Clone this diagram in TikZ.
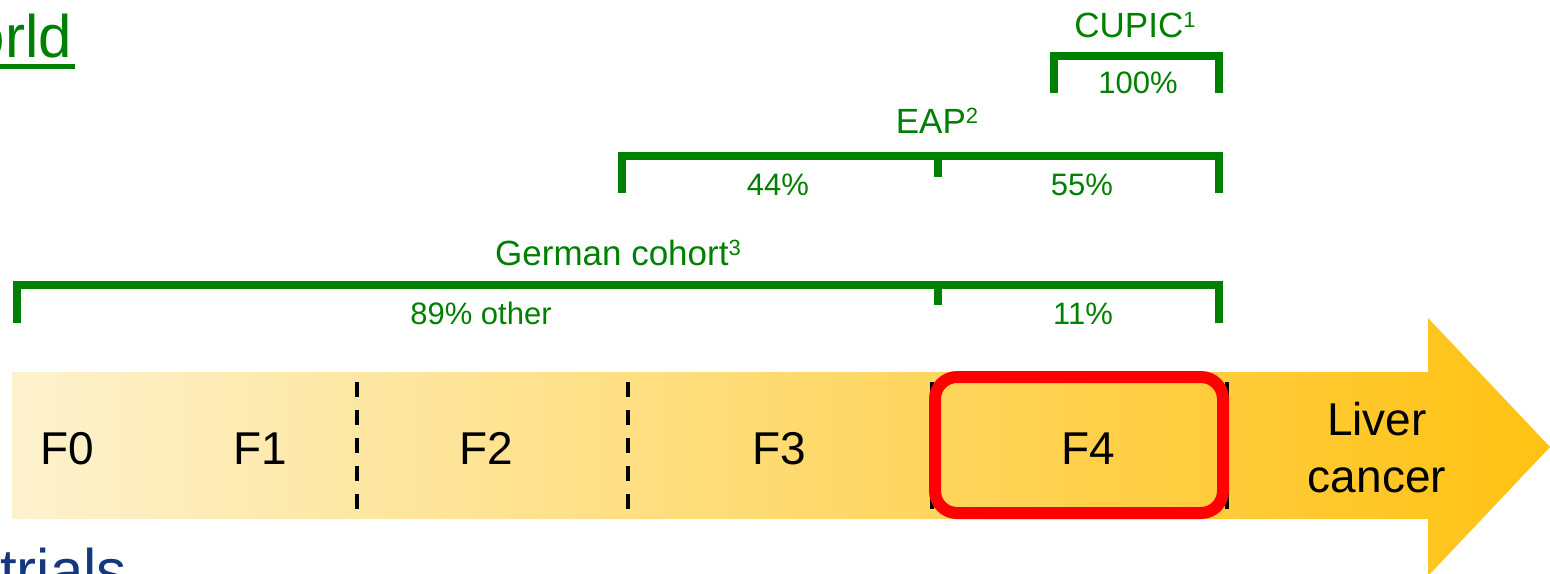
\documentclass[tikz,border=0pt]{standalone}
\usepackage{fontspec}
\setmainfont{Liberation Sans}
\definecolor{grn}{RGB}{0,128,0}
\definecolor{bluetxt}{RGB}{20,55,125}
\definecolor{arrowL}{RGB}{253,242,206}
\definecolor{arrowR}{RGB}{255,194,18}
\newcommand{\mysup}[1]{\raisebox{9.5pt}{\fontsize{22}{22}\selectfont #1}}
\tikzset{
  brk/.style={draw=grn, line width=8pt, line join=miter},
  pct/.style={text=grn, inner sep=0pt, anchor=base, font=\fontsize{31}{37}\selectfont},
  ttl/.style={text=grn, inner sep=0pt, anchor=base, font=\fontsize{35}{41}\selectfont},
  stage/.style={text=black, inner sep=0pt, anchor=base, font=\fontsize{46}{57}\selectfont},
  divider/.style={draw=black, line width=3.5pt, dash pattern=on 15pt off 13pt},
  focus/.style={draw=red, line width=12pt, rounded corners=22pt},
}
\begin{document}
\begin{tikzpicture}[x=1pt,y=-1pt]
\useasboundingbox (0,0) rectangle (1550,573);
% arrow
\shade[left color=arrowL, right color=arrowR]
  (12,372) -- (1428,372) -- (1428,318) -- (1550,447) -- (1428,576) -- (1428,519) -- (12,519) -- cycle;
% dividers
\coordinate (d1t) at (357,382); \coordinate (d1b) at (357,510);
\coordinate (d2t) at (628,382); \coordinate (d2b) at (628,510);
\coordinate (d3t) at (932,382); \coordinate (d3b) at (932,510);
\coordinate (d4t) at (1227,382); \coordinate (d4b) at (1227,510);
\draw[divider] (d1t) -- (d1b);
\draw[divider] (d2t) -- (d2b);
\draw[divider] (d3t) -- (d3b);
\draw[divider] (d4t) -- (d4b);
% stages
\node[stage] (f0) at (67,464) {F0};
\node[stage] (f1) at (260,464) {F1};
\node[stage] (f2) at (486,464) {F2};
\node[stage] (f3) at (779,464) {F3};
\node[stage] (f4) at (1088,464) {F4};
\node[stage] (liver) at (1377,435) {Liver};
\node[stage] (cancer) at (1377,492) {cancer};
% highlight
\draw[focus] (935,377) rectangle (1223,513);
% CUPIC
\draw[brk] (1054,93) -- (1054,55.5) -- (1219,55.5) -- (1219,93);
\node[ttl] (cupic) at (1135,37) {CUPIC\mysup{1}};
\node[pct] (p100) at (1138,93) {100\%};
% EAP
\draw[brk] (622,193) -- (622,156) -- (1219,156) -- (1219,193);
\draw[brk] (938,156) -- (938,177);
\node[ttl] (eap) at (937,133) {EAP\mysup{2}};
\node[pct] (p44) at (778,195) {44\%};
\node[pct] (p55) at (1082,195) {55\%};
% German cohort
\draw[brk] (17,323) -- (17,285) -- (1219,285) -- (1219,323);
\draw[brk] (938,285) -- (938,305);
\node[ttl] (german) at (618,265) {German cohort\mysup{3}};
\node[pct] (p89) at (481,324) {89\% other};
\node[pct] (p11) at (1083,324) {11\%};
% cut-off page texts
\node[text=grn, inner sep=0pt, anchor=base east, font=\fontsize{60}{70}\selectfont] (world) at (72,57) {orld};
\draw[grn, line width=4.5pt] (0,66.5) -- (75,66.5);
\node[text=bluetxt, inner sep=0pt, anchor=base west, font=\fontsize{60}{70}\selectfont] (trials) at (0,591) {trials};
\end{tikzpicture}
\end{document}
